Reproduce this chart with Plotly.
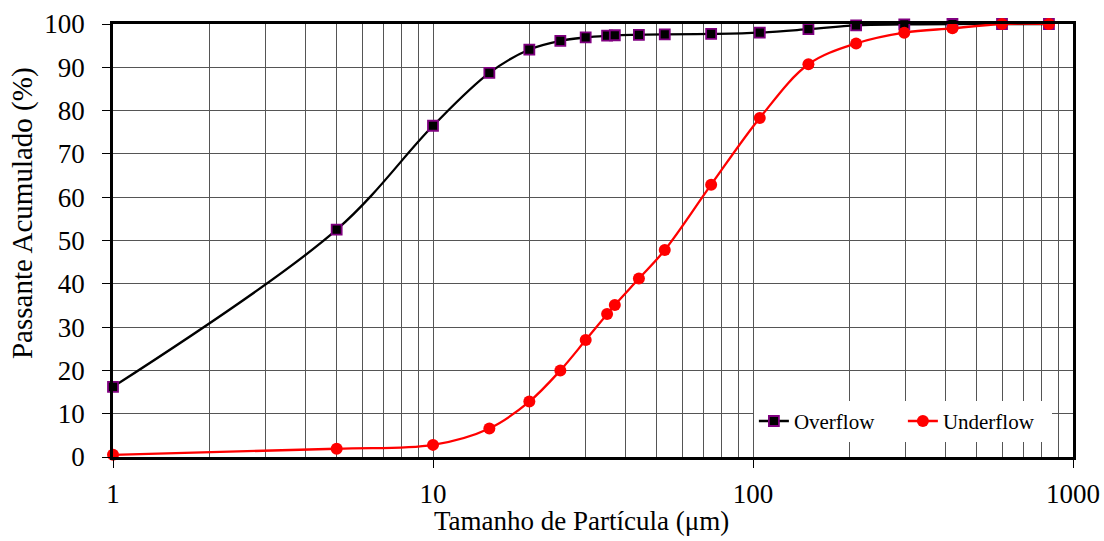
import plotly.graph_objects as go

# Particle size (µm) of each sieve / measurement point
tamanho = [1, 5, 10, 15, 20, 25, 30, 35, 37, 44, 53, 74, 105, 149, 210, 297, 420, 600, 841]

# Cumulative passing (%) for each stream
overflow = [16.2, 52.5, 76.5, 88.7, 94.1, 96.1, 96.9, 97.3, 97.4, 97.5, 97.6, 97.7,
            98.0, 98.8, 99.7, 99.9, 100, 100, 100]
underflow = [0.5, 1.9, 2.8, 6.6, 12.8, 20.0, 27.0, 33.0, 35.1, 41.2, 47.8, 62.9,
             78.3, 90.7, 95.5, 98.0, 99.0, 100, 100]

x_ticks = [1, 10, 100, 1000]
x_minor = [m * d for d in (1, 10, 100) for m in range(2, 10)]

FONT = "Liberation Serif"
GRID = "#555555"

fig = go.Figure()
fig.add_trace(go.Scatter(
    x=tamanho, y=overflow, name="Overflow", mode="lines+markers",
    line=dict(color="black", width=2.3, shape="spline", smoothing=1.0),
    marker=dict(symbol="square", size=10, color="black",
                line=dict(color="#800080", width=1.8)),
    cliponaxis=False,
))
fig.add_trace(go.Scatter(
    x=tamanho, y=underflow, name="Underflow", mode="lines+markers",
    line=dict(color="#ff0000", width=2.3, shape="spline", smoothing=1.0),
    marker=dict(symbol="circle", size=12, color="#ff0000"),
    cliponaxis=False,
))

fig.update_layout(
    width=1104, height=541,
    margin=dict(l=113, r=31, t=24, b=84),
    paper_bgcolor="white", plot_bgcolor="white",
    font=dict(family=FONT, size=27, color="black"),
    showlegend=True,
    legend=dict(
        orientation="h", x=0.978, xanchor="right", y=0.035, yanchor="bottom",
        bgcolor="white", font=dict(family=FONT, size=21, color="black"),
        borderwidth=0, entrywidth=104, entrywidthmode="pixels",
    ),
    annotations=[
        dict(text="Passante Acumulado (%)", textangle=-90, xref="paper", yref="paper",
             x=(22 - 113) / 960, y=0.5635, xanchor="center", yanchor="middle",
             showarrow=False, font=dict(family=FONT, size=29)),
        dict(text="Tamanho de Partícula (μm)", xref="paper", yref="paper",
             x=0.4875, y=-0.148, xanchor="center", yanchor="middle",
             showarrow=False, font=dict(family=FONT, size=27)),
    ],
)

fig.update_xaxes(
    type="log", range=[0, 3], automargin=False,
    tickvals=x_ticks, ticktext=[str(v) for v in x_ticks],
    ticks="outside", ticklen=8, tickcolor="black", tickwidth=1,
    ticklabelstandoff=3,
    showgrid=True, gridcolor=GRID, gridwidth=1,
    minor=dict(tickvals=x_minor, showgrid=True, gridcolor=GRID, gridwidth=1, ticks=""),
    showline=True, linecolor="black", linewidth=2.5, mirror=True,
    zeroline=False,
)
fig.update_yaxes(
    range=[0, 100], dtick=10, automargin=False,
    ticks="outside", ticklen=8, tickcolor="black", tickwidth=1,
    ticklabelstandoff=12,
    showgrid=True, gridcolor=GRID, gridwidth=1,
    showline=True, linecolor="black", linewidth=2.5, mirror=True,
    zeroline=False,
)

fig.write_html("out.html")
